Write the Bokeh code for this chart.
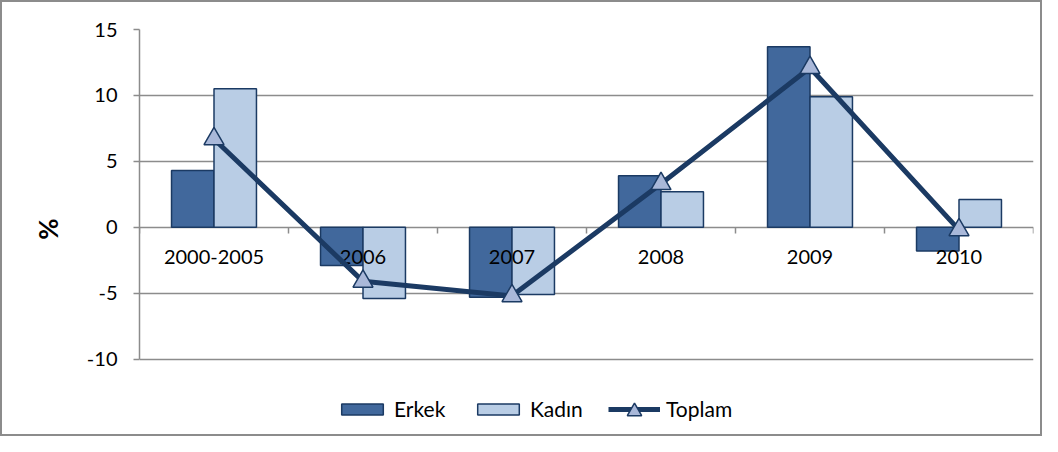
import numpy as np
from bokeh.plotting import figure
from bokeh.models import Range1d, FixedTicker, Legend, LegendItem, ColumnDataSource
from bokeh.core.properties import value
from bokeh.embed import file_html
from bokeh.resources import INLINE

categories = ["2000-2005", "2006", "2007", "2008", "2009", "2010"]
erkek = [4.3, -2.9, -5.3, 3.9, 13.7, -1.8]
kadin = [10.5, -5.4, -5.1, 2.7, 9.9, 2.1]
toplam = [6.7, -4.1, -5.2, 3.3, 12.1, -0.2]
y_ticks = [-10, -5, 0, 5, 10, 15]
series_names = ["Erkek", "Kadın", "Toplam"]

FONT = "Lato"
GRID = "#8C8C8C"
NAVY = "#1B3A63"
C_ERKEK = "#41689C"
C_KADIN = "#B9CDE5"
C_MARK = "#A9B8D9"

W, H = 1042, 436
BORDER_L, BORDER_R, BORDER_T, BORDER_B = 137, 11, 27, 10
AXIS_PANEL = 2
AXIS_SPAN_PX = 328  # pixel height of the value axis from its lowest to highest tick

n = len(categories)
idx = np.arange(n)
bw = 0.285

y_top = max(y_ticks)
y_low = min(y_ticks)
frame_h = H - BORDER_T - BORDER_B - AXIS_PANEL
px_per_unit = AXIS_SPAN_PX / (y_top - y_low)
y_start = y_top - frame_h / px_per_unit

p = figure(width=W, height=H, output_backend="svg", toolbar_location=None,
           x_range=Range1d(-0.5, n - 0.5), y_range=Range1d(y_start, y_top),
           min_border_left=BORDER_L, min_border_right=BORDER_R,
           min_border_top=BORDER_T, min_border_bottom=BORDER_B)
p.outline_line_color = None
p.background_fill_color = "white"
p.border_fill_color = "white"
p.styles = {"border": "2px solid #8C8C8C"}

source = ColumnDataSource(dict(cat=categories, xc=idx, xe=idx - bw / 2, xk=idx + bw / 2,
                               erkek=erkek, kadin=kadin, toplam=toplam))

r_e = p.vbar(x="xe", width=bw, top="erkek", bottom=0, source=source,
             fill_color=C_ERKEK, line_color=NAVY, line_width=1.5)
r_k = p.vbar(x="xk", width=bw, top="kadin", bottom=0, source=source,
             fill_color=C_KADIN, line_color=NAVY, line_width=1.5)
# category labels just under the zero line
p.text(x="xc", y=0, text="cat", source=source, text_align="center", text_baseline="middle",
       y_offset=30, text_font=value(FONT), text_font_size="20px", text_color="black")
r_l = p.line(x="xc", y="toplam", source=source, line_width=5, line_color=NAVY, line_join="round")
r_m = p.scatter(x="xc", y="toplam", source=source, marker="triangle", size=20,
                fill_color=C_MARK, line_color=NAVY, line_width=1.5)

# x axis at zero: only the boundary tick marks
xa = p.xaxis[0]
xa.fixed_location = 0
xa.ticker = FixedTicker(ticks=[i - 0.5 for i in range(n + 1)])
xa.major_label_overrides = {i - 0.5: "" for i in range(n + 1)}
xa.major_label_text_font_size = "0px"
xa.major_label_standoff = 0
xa.axis_line_color = None
xa.major_tick_line_color = GRID
xa.major_tick_line_width = 1.5
xa.major_tick_in = 0
xa.major_tick_out = 6
xa.minor_tick_line_color = None

ya = p.yaxis[0]
ya.ticker = FixedTicker(ticks=y_ticks)
ya.bounds = (y_low, y_top)
ya.major_label_overrides = {t: str(t) for t in y_ticks}
ya.axis_line_color = GRID
ya.axis_line_width = 1.5
ya.major_tick_line_color = GRID
ya.major_tick_line_width = 1.5
ya.major_tick_in = 0
ya.major_tick_out = 6
ya.minor_tick_line_color = None
ya.major_label_standoff = 16
ya.major_label_text_font = FONT
ya.major_label_text_font_size = "20px"
ya.major_label_text_color = "black"
ya.axis_label = "%"
ya.axis_label_text_font = FONT
ya.axis_label_text_font_style = "bold"
ya.axis_label_text_font_size = "26px"
ya.axis_label_text_color = "black"
ya.axis_label_standoff = 20

p.xgrid.visible = False
p.ygrid.ticker = FixedTicker(ticks=y_ticks)
p.ygrid.grid_line_color = GRID
p.ygrid.grid_line_width = 1.5

LEG_X, LEG_Y = 197, 7
GW, LW, SP, ST = 52, 58, 20, 6
legend = Legend(items=[LegendItem(label=series_names[0], renderers=[r_e]),
                       LegendItem(label=series_names[1], renderers=[r_k]),
                       LegendItem(label=series_names[2], renderers=[r_l])],
                location=(LEG_X, LEG_Y), orientation="horizontal",
                glyph_width=GW, glyph_height=14, label_standoff=ST, spacing=SP, label_width=LW,
                padding=0, margin=0, border_line_color=None, background_fill_alpha=0,
                label_text_font=FONT, label_text_font_size="21px", label_text_color="black")
p.add_layout(legend)

# larger triangle marker drawn over the middle of the "Toplam" legend line
MK = 36
line_center = LEG_X + 2 * (GW + ST + LW + SP) + GW / 2
marker_legend = Legend(items=[LegendItem(label=" ", renderers=[r_m])],
                       location=(line_center - MK / 2, LEG_Y - 8), orientation="horizontal",
                       glyph_width=MK, glyph_height=MK, label_standoff=0, label_width=0,
                       padding=0, margin=0, border_line_color=None, background_fill_alpha=0,
                       label_text_font=FONT, label_text_font_size="1px")
p.add_layout(marker_legend)

open("out.html", "w").write(file_html(p, INLINE))
